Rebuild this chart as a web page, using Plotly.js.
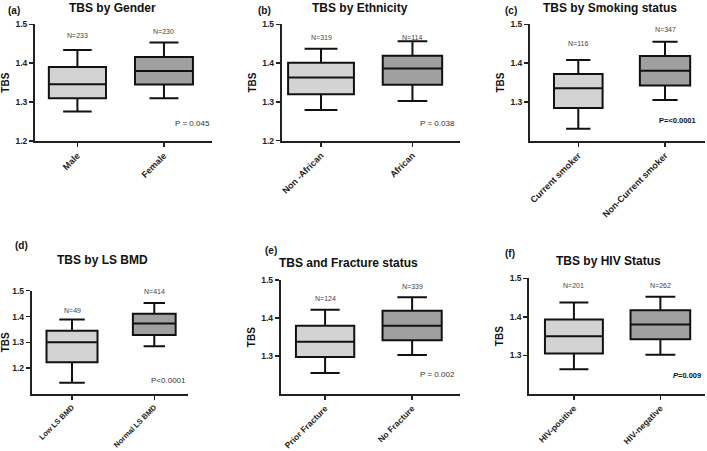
<!DOCTYPE html>
<html>
<head>
<meta charset="utf-8">
<script src="https://cdn.plot.ly/plotly-3.0.1.min.js"></script>
<style>html,body{margin:0;padding:0;background:#fff;}#chart{width:707px;height:451px;}</style>
</head>
<body>
<div id="chart"></div>
<script>
// ---- Data ----
const panelLetters = ["(a)", "(b)", "(c)", "(d)", "(e)", "(f)"];
const panelTitles = ["TBS by Gender", "TBS by Ethnicity", "TBS by Smoking status",
                     "TBS by LS BMD", "TBS and Fracture status", "TBS by HIV Status"];
const categories = [
  ["Male", "Female"],
  ["Non -African", "African"],
  ["Current smoker", "Non-Current smoker"],
  ["Low LS BMD", "Normal LS BMD"],
  ["Prior Fracture", "No Fracture"],
  ["HIV-positive", "HIV-negative"]
];
const counts = [
  ["N=233", "N=230"],
  ["N=319", "N=114"],
  ["N=116", "N=347"],
  ["N=49", "N=414"],
  ["N=124", "N=339"],
  ["N=201", "N=262"]
];
const pValues = ["P = 0.045", "P = 0.038", "<b>P=<0.0001</b>", "P<0.0001", "P = 0.002", "<b><i>P</i>=0.009</b>"];
// [group1, group2] for each panel
const lowerWhisker = [[1.276, 1.310], [1.279, 1.302], [1.231, 1.305], [1.144, 1.285], [1.256, 1.303], [1.264, 1.302]];
const q1Values     = [[1.310, 1.345], [1.320, 1.344], [1.284, 1.342], [1.223, 1.328], [1.298, 1.342], [1.305, 1.342]];
const medianValues = [[1.346, 1.380], [1.363, 1.386], [1.335, 1.380], [1.300, 1.373], [1.338, 1.380], [1.350, 1.380]];
const q3Values     = [[1.390, 1.416], [1.401, 1.419], [1.372, 1.418], [1.345, 1.411], [1.380, 1.419], [1.393, 1.417]];
const upperWhisker = [[1.434, 1.453], [1.437, 1.456], [1.408, 1.455], [1.388, 1.452], [1.422, 1.455], [1.437, 1.452]];
const yTickValues = [
  [1.2, 1.3, 1.4, 1.5],
  [1.2, 1.3, 1.4, 1.5],
  [1.3, 1.4, 1.5],
  [1.2, 1.3, 1.4, 1.5],
  [1.3, 1.4, 1.5],
  [1.3, 1.4, 1.5]
];

// ---- Layout geometry (pixels) ----
const W = 707, H = 451;
const geom = [
  {x0: 35,    x1: 212, yTop: 24.3,  yBot: 141,   yr: [1.2, 1.5], xr: [-0.49, 1.555], w: [0.66, 0.67], fs: 9},
  {x0: 281.7, x1: 460, yTop: 24.3,  yBot: 140.7, yr: [1.2, 1.5], xr: [-0.43, 1.52],  w: [0.72, 0.65], fs: 9},
  {x0: 530,   x1: 705, yTop: 24.3,  yBot: 140.7, yr: [1.2, 1.5], xr: [-0.557, 1.461], w: [0.56, 0.58], fs: 9},
  {x0: 31.7,  x1: 188, yTop: 290.7, yBot: 394,   yr: [1.1, 1.5], xr: [-0.49, 1.41],  w: [0.62, 0.52], fs: 7.5},
  {x0: 280.7, x1: 460, yTop: 280,   yBot: 394.3, yr: [1.2, 1.5], xr: [-0.51, 1.55],  w: [0.67, 0.68], fs: 8.5},
  {x0: 529.3, x1: 705, yTop: 278.3, yBot: 394,   yr: [1.2, 1.5], xr: [-0.516, 1.516], w: [0.67, 0.69], fs: 8.5}
];
// label pixel positions
const nLabelPix = [[35.7, 31.7], [37, 38], [43.3, 29], [310.7, 291.7], [298.7, 286], [285, 285]];
const pLabelPix = [[192, 124], [437, 124], [677, 120], [168, 380], [437, 374.3], [687, 375]];
const letterPix = [[6, 10], [256, 10], [503, 10], [13, 245], [263, 250], [503, 253]];
const titlePix  = [[112, 8], [360, 8], [610, 8], [102, 260], [348, 262.7], [608, 260.7]];

const fills = ["#d3d3d3", "#a0a0a0"];
const traces = [];
const layout = {
  width: W, height: H,
  margin: {l: 0, r: 0, t: 0, b: 0},
  paper_bgcolor: "#fff", plot_bgcolor: "rgba(0,0,0,0)",
  showlegend: false,
  font: {family: "Liberation Sans, Arial, sans-serif", color: "#222"},
  annotations: []
};

for (let p = 0; p < 6; p++) {
  const g = geom[p];
  const sfx = p === 0 ? "" : String(p + 1);
  const xa = "x" + sfx, ya = "y" + sfx;
  for (let k = 0; k < 2; k++) {
    traces.push({
      type: "box",
      xaxis: xa, yaxis: ya,
      x: [categories[p][k]],
      q1: [q1Values[p][k]],
      median: [medianValues[p][k]],
      q3: [q3Values[p][k]],
      lowerfence: [lowerWhisker[p][k]],
      upperfence: [upperWhisker[p][k]],
      width: g.w[k],
      whiskerwidth: 0.5,
      fillcolor: fills[k],
      line: {color: "#111", width: 2},
      hoverinfo: "skip"
    });
  }
  const pxToPaperX = v => v / W;
  const pxToPaperY = v => 1 - v / H;
  layout["xaxis" + sfx] = {
    domain: [pxToPaperX(g.x0), pxToPaperX(g.x1)],
    anchor: ya,
    type: "category",
    categoryorder: "array",
    categoryarray: categories[p],
    range: g.xr,
    showline: true, linecolor: "#222", linewidth: 2,
    ticks: "outside", ticklen: 4, tickwidth: 1.5, tickcolor: "#222",
    tickangle: -45,
    tickfont: {size: g.fs, weight: "bold", color: "#222"},
    showgrid: false, zeroline: false, fixedrange: true
  };
  layout["yaxis" + sfx] = {
    domain: [pxToPaperY(g.yBot), pxToPaperY(g.yTop)],
    anchor: xa,
    range: g.yr,
    tickmode: "array",
    tickvals: yTickValues[p],
    ticktext: yTickValues[p].map(v => v.toFixed(1)),
    showline: true, linecolor: "#222", linewidth: 2,
    ticks: "outside", ticklen: 4, tickwidth: 1.5, tickcolor: "#222",
    tickfont: {size: 8.5, weight: "bold", color: "#222"},
    title: {text: "TBS", font: {size: 10, weight: "bold", color: "#111"}, standoff: 4},
    showgrid: false, zeroline: false, fixedrange: true
  };
  // N labels
  for (let k = 0; k < 2; k++) {
    layout.annotations.push({
      xref: "x" + sfx, yref: "paper",
      x: categories[p][k], y: pxToPaperY(nLabelPix[p][k]),
      text: counts[p][k], showarrow: false,
      font: {size: 7, color: "#444"}, xanchor: "center", yanchor: "middle"
    });
  }
  // P label
  const bold = p === 2 || p === 5;
  layout.annotations.push({
    xref: "paper", yref: "paper",
    x: pxToPaperX(pLabelPix[p][0]), y: pxToPaperY(pLabelPix[p][1]),
    text: pValues[p], showarrow: false,
    font: {size: bold ? 7.5 : 8, color: bold ? "#111" : "#333"},
    xanchor: "center", yanchor: "middle"
  });
  // letter
  layout.annotations.push({
    xref: "paper", yref: "paper",
    x: pxToPaperX(letterPix[p][0]), y: pxToPaperY(letterPix[p][1]),
    text: "<b>" + panelLetters[p] + "</b>", showarrow: false,
    font: {size: 10, color: "#111"}, xanchor: "left", yanchor: "middle"
  });
  // title
  layout.annotations.push({
    xref: "paper", yref: "paper",
    x: pxToPaperX(titlePix[p][0]), y: pxToPaperY(titlePix[p][1]),
    text: "<b>" + panelTitles[p] + "</b>", showarrow: false,
    font: {size: 12, color: "#111"}, xanchor: "center", yanchor: "middle"
  });
}

Plotly.newPlot("chart", traces, layout, {staticPlot: true, displayModeBar: false});
</script>
</body>
</html>
